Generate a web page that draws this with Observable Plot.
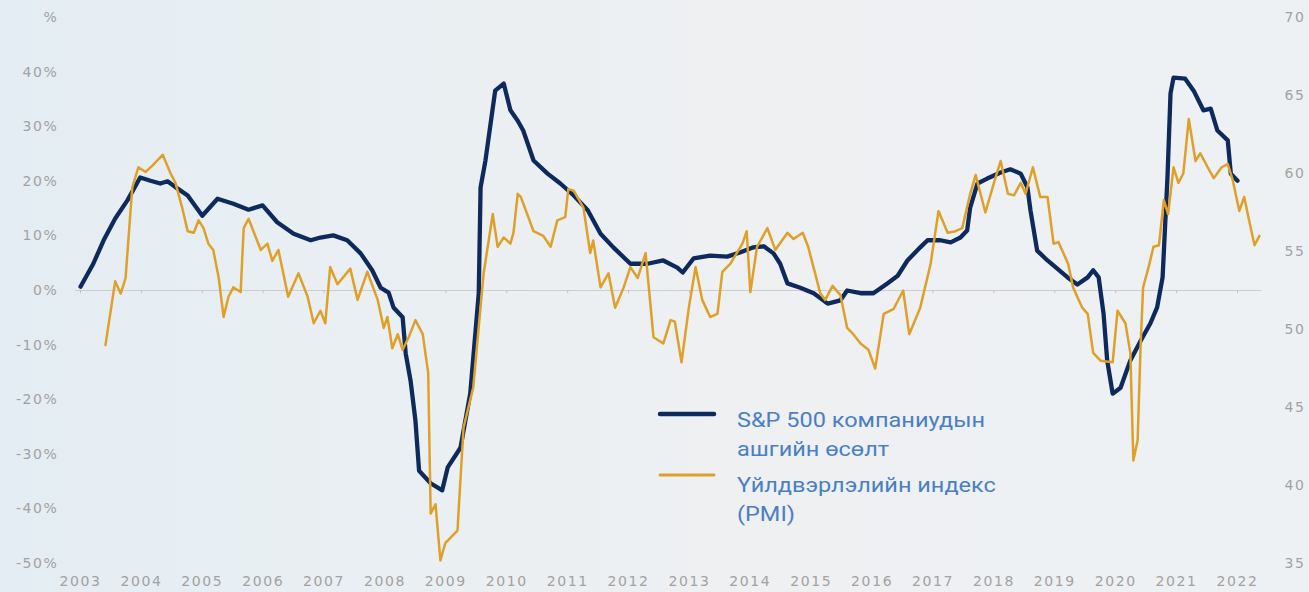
<!DOCTYPE html>
<html><head><meta charset="utf-8">
<script src="https://cdn.jsdelivr.net/npm/d3@7"></script>
<script src="https://cdn.jsdelivr.net/npm/@observablehq/plot@0.6"></script>
<style>
html,body{margin:0;padding:0;}
body{width:1309px;height:592px;overflow:hidden;
 background:linear-gradient(90deg,#e4edf3 0%,#e9eff3 25%,#eef0f2 55%,#eef1f4 100%);}
#wrap{position:relative;width:1309px;height:592px;}
#legend{position:absolute;left:0;top:0;pointer-events:none;}
</style></head>
<body><div id="wrap"><div id="chart"></div>
<svg id="legend" width="1309" height="592"></svg></div>
<script>
// S&P 500 earnings growth (%)
const spYears = [2003.0,2003.21,2003.38,2003.57,2003.77,2003.98,2004.15,2004.31,2004.43,2004.59,2004.76,2005.0,2005.25,2005.51,2005.76,2005.99,2006.23,2006.5,2006.78,2006.94,2007.15,2007.38,2007.6,2007.79,2007.93,2008.06,2008.14,2008.29,2008.34,2008.42,2008.5,2008.56,2008.75,2008.94,2009.03,2009.24,2009.4,2009.54,2009.57,2009.65,2009.81,2009.95,2010.06,2010.18,2010.27,2010.44,2010.67,2010.88,2011.1,2011.33,2011.54,2011.75,2012.03,2012.31,2012.57,2012.8,2012.89,2013.07,2013.34,2013.62,2013.84,2014.05,2014.22,2014.38,2014.49,2014.61,2014.82,2015.04,2015.27,2015.48,2015.59,2015.81,2016.02,2016.25,2016.42,2016.58,2016.79,2016.91,2017.12,2017.29,2017.45,2017.56,2017.61,2017.73,2017.89,2018.11,2018.27,2018.44,2018.55,2018.6,2018.71,2018.88,2019.04,2019.21,2019.37,2019.54,2019.63,2019.72,2019.8,2019.86,2019.95,2020.08,2020.24,2020.41,2020.57,2020.68,2020.77,2020.85,2020.9,2020.95,2021.14,2021.28,2021.44,2021.56,2021.67,2021.84,2021.89,2022.0];
const spGrowth = [0.7,4.9,9.2,13.2,16.5,20.7,20.1,19.6,20.0,18.7,17.4,13.7,16.8,15.9,14.8,15.6,12.5,10.4,9.2,9.7,10.1,9.2,6.8,3.7,0.5,-0.4,-3.1,-4.9,-11.5,-16.5,-23.8,-33.0,-35.3,-36.6,-32.4,-28.8,-18.9,-0.5,18.9,23.8,36.6,37.9,33.0,31.1,29.3,23.8,21.4,19.6,17.4,14.7,10.4,7.9,4.9,4.9,5.5,4.2,3.3,5.9,6.4,6.2,7.0,7.9,8.1,6.8,4.9,1.3,0.5,-0.5,-2.4,-1.8,0.0,-0.5,-0.5,1.3,2.7,5.5,7.9,9.2,9.2,8.8,9.7,11.0,15.2,19.6,20.5,21.6,22.2,21.4,18.9,14.7,7.3,5.5,4.0,2.4,1.1,2.4,3.7,2.4,-4.2,-12.8,-18.9,-17.8,-12.8,-9.2,-6.0,-3.1,2.4,20.7,36.1,39.0,38.8,36.6,33.0,33.3,29.3,27.5,21.4,20.1];

// Manufacturing PMI (right axis)
const pmiYears = [2003.41,2003.57,2003.66,2003.74,2003.85,2003.95,2004.07,2004.18,2004.35,2004.48,2004.56,2004.67,2004.76,2004.86,2004.94,2005.02,2005.1,2005.18,2005.27,2005.35,2005.43,2005.51,2005.63,2005.68,2005.76,2005.84,2005.96,2006.07,2006.15,2006.25,2006.41,2006.58,2006.73,2006.83,2006.94,2007.02,2007.1,2007.22,2007.43,2007.55,2007.71,2007.88,2007.98,2008.04,2008.12,2008.21,2008.29,2008.39,2008.5,2008.62,2008.71,2008.75,2008.83,2008.91,2008.99,2009.19,2009.29,2009.45,2009.62,2009.77,2009.85,2009.95,2010.06,2010.11,2010.18,2010.23,2010.44,2010.6,2010.72,2010.83,2010.96,2011.01,2011.1,2011.26,2011.37,2011.42,2011.54,2011.67,2011.78,2011.92,2012.03,2012.15,2012.28,2012.41,2012.57,2012.69,2012.76,2012.87,2012.99,2013.1,2013.21,2013.34,2013.46,2013.54,2013.67,2013.87,2013.94,2014.0,2014.11,2014.28,2014.41,2014.61,2014.71,2014.86,2014.95,2015.15,2015.23,2015.35,2015.48,2015.59,2015.69,2015.81,2015.94,2016.05,2016.19,2016.35,2016.51,2016.61,2016.79,2016.96,2017.09,2017.24,2017.37,2017.48,2017.61,2017.7,2017.78,2017.86,2018.0,2018.11,2018.23,2018.33,2018.44,2018.52,2018.64,2018.76,2018.88,2018.98,2019.06,2019.14,2019.22,2019.3,2019.45,2019.54,2019.63,2019.75,2019.95,2020.03,2020.16,2020.24,2020.29,2020.36,2020.41,2020.45,2020.54,2020.62,2020.71,2020.79,2020.86,2020.95,2021.03,2021.11,2021.2,2021.31,2021.39,2021.51,2021.61,2021.74,2021.84,2021.92,2022.03,2022.11,2022.19,2022.28,2022.36];
const pmiValues = [49.0,53.1,52.3,53.3,59.1,60.4,60.1,60.5,61.2,60.0,59.4,57.8,56.3,56.2,57.0,56.5,55.5,55.1,53.3,50.8,52.1,52.7,52.4,56.5,57.1,56.3,55.1,55.5,54.4,55.1,52.1,53.6,52.1,50.4,51.2,50.4,54.0,52.9,53.9,51.9,53.7,51.9,50.1,50.8,48.8,49.7,48.7,49.5,50.6,49.7,47.2,38.2,38.8,35.2,36.3,37.1,43.7,46.3,53.6,57.4,55.3,55.9,55.5,56.2,58.7,58.5,56.3,56.0,55.3,57.0,57.2,59.0,58.9,57.8,54.9,55.7,52.7,53.6,51.4,52.7,54.0,53.3,54.9,49.5,49.1,50.6,50.5,47.9,51.4,54.0,51.9,50.8,51.0,53.7,54.2,55.5,56.3,52.4,55.3,56.5,55.1,56.2,55.8,56.2,55.3,52.3,51.9,52.8,52.2,50.1,49.7,49.1,48.7,47.5,51.0,51.3,52.5,49.7,51.4,54.2,57.6,56.2,56.3,56.5,58.7,59.9,58.7,57.5,59.4,60.8,58.7,58.6,59.4,58.7,60.4,58.5,58.5,55.5,55.6,54.9,54.2,52.7,51.4,51.0,48.5,48.0,47.9,51.2,50.4,48.5,41.6,42.9,49.1,52.7,54.0,55.3,55.4,58.3,57.4,60.4,59.4,60.0,63.5,60.8,61.3,60.4,59.7,60.4,60.6,59.6,57.6,58.5,57.0,55.4,56.0];

// Tick labels
const yearTicks = [2003,2004,2005,2006,2007,2008,2009,2010,2011,2012,2013,2014,2015,2016,2017,2018,2019,2020,2021,2022];
const pctTicks = [-50,-40,-30,-20,-10,0,10,20,30,40,50];
const pmiTicks = [35,40,45,50,55,60,65,70];
const legendLabels = [["S&P 500 компаниудын","ашгийн өсөлт"],["Үйлдвэрлэлийн индекс","(PMI)"]];

const PCT_DOMAIN = [-50, 50];
const PMI_DOMAIN = [35, 70];
const pmiToPct = v => PCT_DOMAIN[0] + (v - PMI_DOMAIN[0]) * (PCT_DOMAIN[1]-PCT_DOMAIN[0]) / (PMI_DOMAIN[1]-PMI_DOMAIN[0]);

const sp = spYears.map((x,i) => ({year:x, value:spGrowth[i]}));
const pmi = pmiYears.map((x,i) => ({year:x, value:pmiValues[i]}));

const NAVY = "#0e2a5c", GOLD = "#dfa02a", TICK = "#a2a2a2";
const axisFont = {fontSize: 14, fill: TICK, fontFamily: "DejaVu Sans"};

const chart = Plot.plot({
  width: 1309, height: 592,
  marginLeft: 80, marginRight: 72, marginTop: 17, marginBottom: 29,
  x: {domain: [2003, 2022], label: null},
  y: {domain: PCT_DOMAIN, label: null},
  style: {background: "transparent", letterSpacing: "1.6px", overflow: "visible"},
  marks: [
    Plot.ruleY([{y:0, x1:2002.92, x2:2022.4}], {y:"y", x1:"x1", x2:"x2", stroke:"#cdcdcd", strokeWidth:1}),
    Plot.ruleX(yearTicks, {x: d => d, y1: 0, y2: -0.6, stroke:"#c4c4c4", strokeWidth:1}),
    Plot.axisX(yearTicks, {tickSize:0, tickPadding:13, tickFormat: d => String(d), ...axisFont}),
    Plot.axisY(pctTicks, {anchor:"left", tickSize:0, tickPadding:22, tickFormat: d => d === 50 ? "%" : d + "%", ...axisFont}),
    Plot.axisY(pmiTicks.map(pmiToPct), {anchor:"right", tickSize:0, tickPadding:47, tickFormat: (d,i) => String(pmiTicks[i]), ...axisFont}),
    Plot.line(sp, {x:"year", y:"value", stroke:NAVY, strokeWidth:4.3, strokeLinejoin:"round", strokeLinecap:"round"}),
    Plot.line(pmi, {x:"year", y: d => pmiToPct(d.value), stroke:GOLD, strokeWidth:2.5, strokeLinejoin:"round"})
  ]
});
document.getElementById("chart").appendChild(chart);

// Legend
const lg = d3.select("#legend");
const entries = [
  {color: NAVY, width: 4.5, ly: 414, lines: legendLabels[0], y0: 427},
  {color: GOLD, width: 3, ly: 475, lines: legendLabels[1], y0: 492}
];
entries.forEach(e => {
  lg.append("line").attr("x1",660).attr("x2",714).attr("y1",e.ly).attr("y2",e.ly)
    .attr("stroke",e.color).attr("stroke-width",e.width).attr("stroke-linecap","round");
  e.lines.forEach((t,i) => {
    lg.append("text").attr("transform", `translate(737,${e.y0 + i*28.5}) scale(1.12,1)`)
      .attr("fill","#4a7fc1").attr("font-family","Roboto, 'Open Sans', sans-serif")
      .attr("font-size",21).text(t);
  });
});
</script></body></html>
